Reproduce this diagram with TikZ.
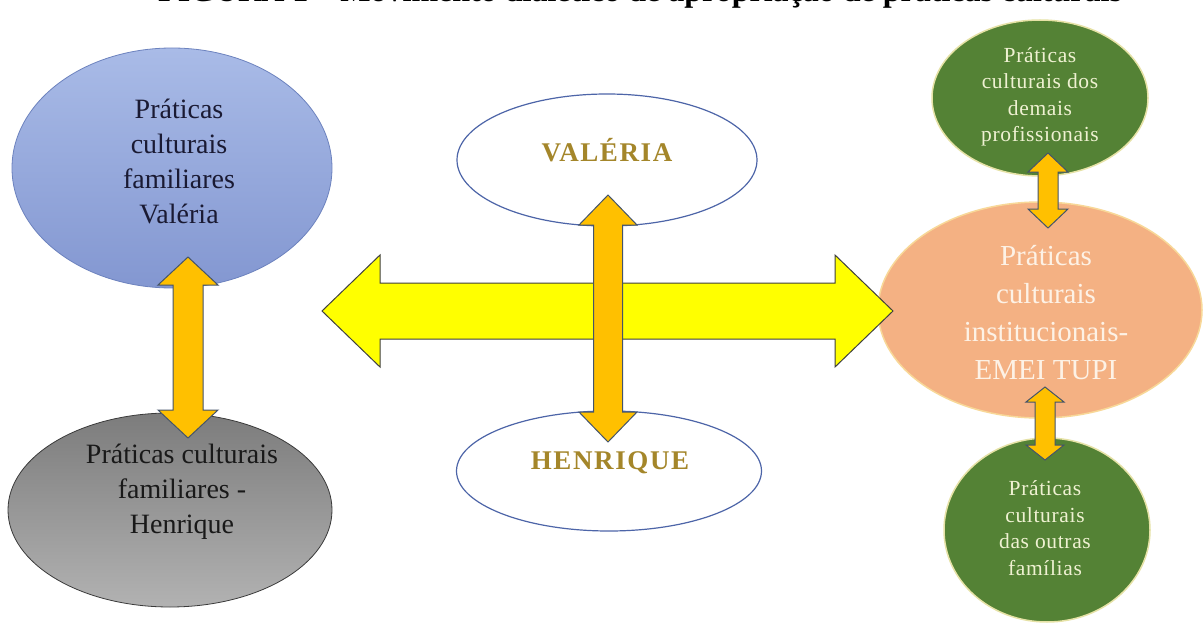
\documentclass[tikz,border=0pt]{standalone}
\usepackage{fontspec}
\setmainfont{Liberation Serif}
\newfontfamily\capsfont[LetterSpace=6]{Liberation Serif}
\newfontfamily\widefont[LetterSpace=3]{Liberation Serif}
\usetikzlibrary{shapes.geometric,calc}
\definecolor{bluetop}{HTML}{A9BBE7}
\definecolor{bluebot}{HTML}{8397D1}
\definecolor{blueedge}{HTML}{6C82BE}
\definecolor{graytop}{HTML}{7C7C7C}
\definecolor{graybot}{HTML}{B2B2B2}
\definecolor{grayedge}{HTML}{3A3A3A}
\definecolor{ringblue}{HTML}{4D65A8}
\definecolor{leaf}{HTML}{548235}
\definecolor{leafedge}{HTML}{E6E2A6}
\definecolor{salmon}{HTML}{F4B183}
\definecolor{salmonedge}{HTML}{F8D898}
\definecolor{cream}{HTML}{EFF1D2}
\definecolor{paletext}{HTML}{FDF2E6}
\definecolor{gold}{HTML}{A4862A}
\definecolor{amber}{HTML}{FFC000}
\definecolor{slate}{HTML}{44546A}
\definecolor{navytext}{HTML}{1A1A33}
\definecolor{pureyellow}{HTML}{FFFF00}
\newcommand\dblarrow[7]{%
  \coordinate (#7s1) at ($(#2)!#6!(#3)$);
  \coordinate (#7s2) at ($(#3)!#6!(#2)$);
  \draw[#1] (#2) -- ($(#7s1)!#5!90:(#3)$) -- ($(#7s1)!#4!90:(#3)$)
    -- ($(#7s2)!#4!-90:(#2)$) -- ($(#7s2)!#5!-90:(#2)$) -- (#3)
    -- ($(#7s2)!#5!90:(#2)$) -- ($(#7s2)!#4!90:(#2)$)
    -- ($(#7s1)!#4!-90:(#3)$) -- ($(#7s1)!#5!-90:(#3)$) -- cycle;
}
\tikzset{
  ell/.style={ellipse, inner sep=0pt},
  bigtext/.style={align=center, font=\fontsize{28}{35}\selectfont},
  smalltext/.style={align=center, text=cream, font=\widefont\fontsize{21.5}{26.5}\selectfont},
  nametext/.style={text=gold, font=\capsfont\bfseries\fontsize{27}{30}\selectfont},
  amberarrow/.style={fill=amber, draw=slate, line width=1pt, line join=miter},
  yellowarrow/.style={fill=pureyellow, draw=black!75, line width=1pt, line join=miter}
}
\begin{document}
\begin{tikzpicture}[x=1pt,y=-1pt]
\clip (0,0) rectangle (1203,626);
\fill[white] (0,0) rectangle (1203,626);
% title (cut off by the top edge, as in the reference)
\node[anchor=base west, inner sep=0pt, font=\bfseries\fontsize{32}{36}\selectfont] (title) at (158,2) {FIGURA 1 -- Movimento dialético de apropriação de práticas culturais};
% left ellipses
\node[ell, minimum width=320pt, minimum height=240pt, top color=bluetop, bottom color=bluebot, draw=blueedge, line width=0.8pt] (fv) at (172,168) {};
\node[bigtext, text=navytext] (fvt) at (179,161) {Práticas\\culturais\\familiares\\Valéria};
\node[ell, minimum width=324pt, minimum height=194pt, top color=graytop, bottom color=graybot, draw=grayedge, line width=0.8pt] (fh) at (170,510) {};
\node[bigtext, text=black!90] (fht) at (182,492) {Práticas culturais\\familiares -\\Henrique};
% centre ellipses
\node[ell, minimum width=300pt, minimum height=132pt, fill=white, draw=ringblue, line width=1.2pt] (val) at (607,160) {};
\node[nametext] (valt) at (607,150) {VALÉRIA};
\node[ell, minimum width=305pt, minimum height=120pt, fill=white, draw=ringblue, line width=1.2pt] (hen) at (609,471) {};
\node[nametext] (hent) at (610,463) {HENRIQUE};
% right ellipses
\node[ell, minimum width=216pt, minimum height=156pt, fill=leaf, draw=leafedge, line width=1.5pt] (prof) at (1040,98) {};
\node[smalltext] (proft) at (1040,97) {Práticas\\culturais dos\\demais\\profissionais};
\node[ell, minimum width=324pt, minimum height=216pt, fill=salmon, draw=salmonedge, line width=1.5pt] (emei) at (1040,310) {};
\node[align=center, text=paletext, font=\fontsize{29}{38}\selectfont] (emeit) at (1046,313) {Práticas\\culturais\\institucionais-\\EMEI TUPI};
\node[ell, minimum width=206pt, minimum height=184pt, fill=leaf, draw=leafedge, line width=1.5pt] (fam) at (1047,530) {};
\node[smalltext] (famt) at (1045,528) {Práticas\\culturais\\das outras\\famílias};
% arrow tips
\coordinate (y1) at (322,311);
\coordinate (y2) at (893,311);
\coordinate (l1) at (188,257);
\coordinate (l2) at (188,438);
\coordinate (c1) at (608,195);
\coordinate (c2) at (608,442);
\coordinate (r1) at (1048,153);
\coordinate (r2) at (1048,228);
\coordinate (q1) at (1045,387);
\coordinate (q2) at (1045,460);
% arrows
\dblarrow{yellowarrow}{y1}{y2}{28pt}{56pt}{58pt}{ya}
\dblarrow{amberarrow}{l1}{l2}{15pt}{30pt}{28pt}{la}
\dblarrow{amberarrow}{c1}{c2}{14.5pt}{29pt}{30pt}{ca}
\dblarrow{amberarrow}{r1}{r2}{10pt}{20pt}{19pt}{ra}
\dblarrow{amberarrow}{q1}{q2}{10pt}{19pt}{15pt}{qa}
\end{tikzpicture}
\end{document}
